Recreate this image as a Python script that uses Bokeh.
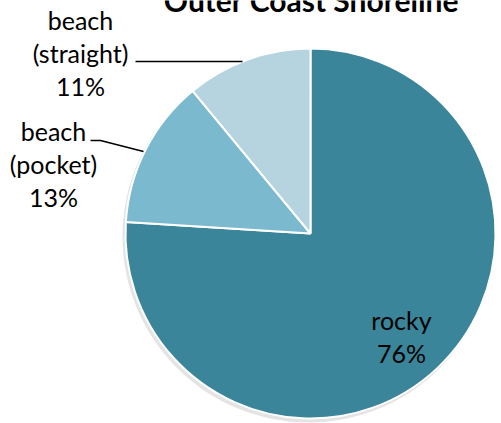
import math
from bokeh.plotting import figure
from bokeh.models import Range1d, ColumnDataSource
from bokeh.core.properties import value
from bokeh.embed import file_html
from bokeh.resources import INLINE

categories = ["rocky", "beach\n(pocket)", "beach\n(straight)"]
shares = [76, 13, 11]
colors = ["#3A8599", "#7BB9CF", "#B5D4E0"]
title_text = "Outer Coast Shoreline"

H = 423
W, Hf = 501, 423
p = figure(width=W, height=Hf, output_backend="svg", toolbar_location=None,
           x_range=Range1d(0, W), y_range=Range1d(0, H),
           min_border=0)
p.axis.visible = False
p.grid.visible = False
p.outline_line_color = None
p.background_fill_color = "white"

cx, cy, r = 310, H - 233, 185

# shadow
p.circle(x=[cx - 2], y=[cy - 3], radius=r + 1, fill_color="#d8d8d8", line_color=None, alpha=0.7)

total = sum(shares)
starts, ends = [], []
a = math.pi / 2
for s in shares:
    starts.append(a)
    a -= 2 * math.pi * s / total
    ends.append(a)
src = ColumnDataSource(dict(start=starts, end=ends, color=colors))
p.wedge(x=cx, y=cy, radius=r, start_angle="start", end_angle="end", direction="clock",
        fill_color="color", line_color="white", line_width=2, source=src)

# leader lines
p.line(x=[135, 242], y=[H - 61, H - 61], line_color="black", line_width=1.5)
p.line(x=[90, 100, 143], y=[H - 140, H - 140, H - 151], line_color="black", line_width=1.5)

# labels
lab_x = [401, 53, 80]
lab_y = [H - 336, H - 163, H - 52]
labels = [f"{c}\n{s}%" for c, s in zip(categories, shares)]
p.text(x=lab_x, y=lab_y, text=labels, text_align="center", text_baseline="middle",
       text_font=value("Lato"), text_font_size="25px", text_color="black",
       text_line_height=1.1)

p.text(x=[311], y=[H + 1], text=[title_text], text_align="center", text_baseline="alphabetic",
       text_font=value("Lato"), text_font_style="bold", text_font_size="30px", text_color="black")

open("out.html", "w").write(file_html(p, INLINE))
